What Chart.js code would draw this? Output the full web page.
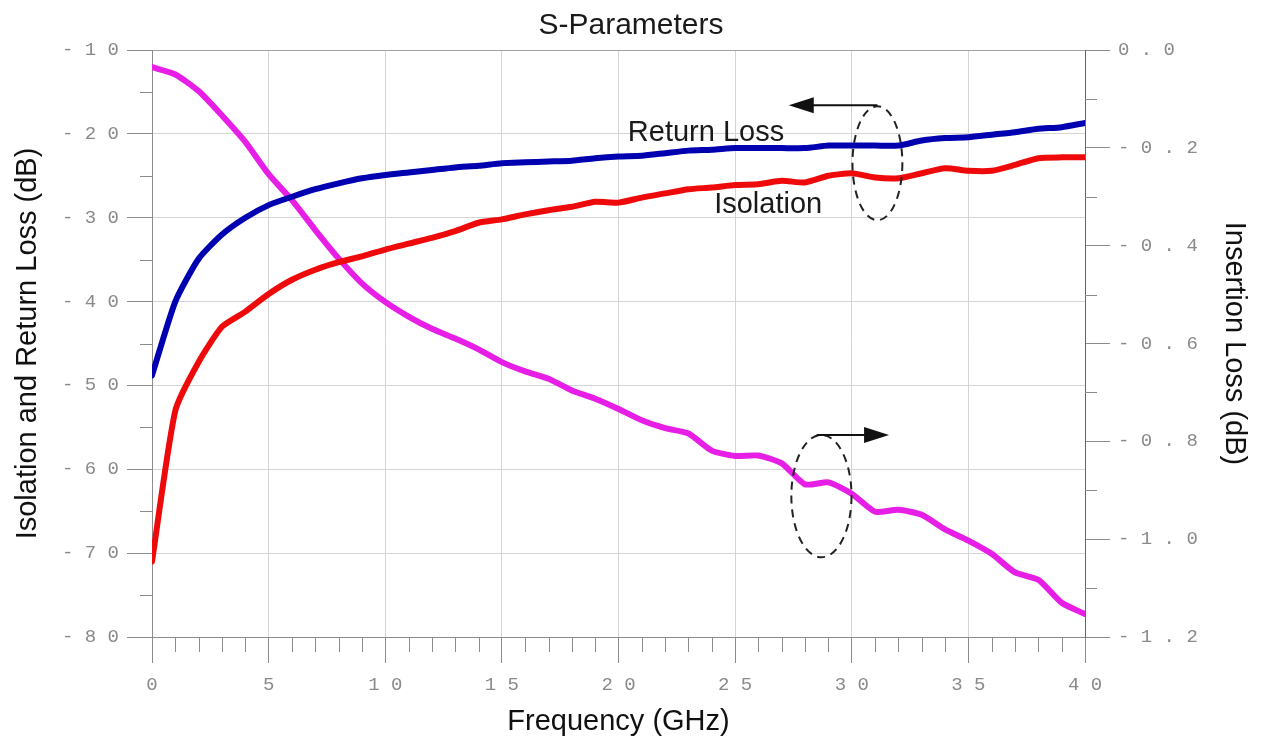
<!DOCTYPE html>
<html lang="en">
<head>
<meta charset="UTF-8">
<title>S-Parameters</title>
<script src="https://cdn.jsdelivr.net/npm/chart.js"></script>
<style>
html, body { margin: 0; padding: 0; background: #fff; }
#wrap { width: 1262px; height: 750px; }
</style>
</head>
<body>
<div id="wrap"><canvas id="sChart"></canvas></div>
<script>
// frequency points in GHz
var freq = [0,1,2,3,4,5,6,7,8,9,10,11,12,13,14,15,16,17,18,19,20,
            21,22,23,24,25,26,27,28,29,30,31,32,33,34,35,36,37,38,39,40];

// left axis (dB)
var returnLoss = [-48.8,-40.0,-34.9,-32.0,-30.0,-28.5,-27.5,-26.6,-25.9,-25.3,-24.9,
                  -24.6,-24.3,-24.0,-23.8,-23.5,-23.4,-23.3,-23.2,-22.9,-22.7,
                  -22.6,-22.3,-22.0,-21.9,-21.7,-21.7,-21.7,-21.7,-21.4,-21.4,
                  -21.4,-21.4,-20.8,-20.5,-20.4,-20.1,-19.8,-19.4,-19.2,-18.7];
var isolation = [-71.0,-53.0,-47.2,-43.0,-41.2,-39.1,-37.4,-36.2,-35.3,-34.6,-33.8,
                 -33.1,-32.4,-31.6,-30.6,-30.2,-29.6,-29.1,-28.7,-28.1,-28.2,
                 -27.6,-27.1,-26.6,-26.4,-26.1,-26.0,-25.6,-25.8,-25.0,-24.7,
                 -25.2,-25.3,-24.7,-24.1,-24.4,-24.4,-23.7,-22.9,-22.8,-22.8];
// right axis (dB)
var insertionLoss = [-0.035,-0.050,-0.084,-0.134,-0.188,-0.254,-0.307,-0.368,-0.426,-0.477,-0.515,
                     -0.545,-0.570,-0.590,-0.612,-0.638,-0.657,-0.672,-0.696,-0.713,-0.734,
                     -0.757,-0.773,-0.784,-0.819,-0.830,-0.829,-0.845,-0.888,-0.884,-0.907,
                     -0.944,-0.940,-0.950,-0.980,-1.003,-1.030,-1.068,-1.083,-1.130,-1.153];

var freqTicks = [0,5,10,15,20,25,30,35,40];
var leftTicks = [-80,-70,-60,-50,-40,-30,-20,-10];
var rightTicks = [-1.2,-1.0,-0.8,-0.6,-0.4,-0.2,0.0];

function pts(ys) {
  return freq.map(function (f, i) { return { x: f, y: ys[i] }; });
}
function spaced(s) { return s.split('').join(' '); }

var tickFont = { family: 'Liberation Mono', size: 19 };
var titleFont = { family: 'Liberation Sans', size: 29, weight: 'normal' };
var gridGray = '#d4d4d4';
var axisGray = '#8c8c8c';

// minor ticks, arrows, ellipses and curve labels
var notesPlugin = {
  id: 'notes',
  afterDraw: function (chart) {
    var ctx = chart.ctx;
    var xs = chart.scales.x, ys = chart.scales.y, ys2 = chart.scales.y2;
    ctx.save();
    ctx.strokeStyle = axisGray;
    ctx.lineWidth = 1;
    ctx.beginPath();
    for (var f = 1; f < 40; f++) {
      if (f % 5 === 0) continue;
      var px = Math.round(xs.getPixelForValue(f)) + 0.5;
      ctx.moveTo(px, xs.top); ctx.lineTo(px, xs.top + 15);
    }
    for (var v = -75; v < -10; v += 10) {
      var py = Math.round(ys.getPixelForValue(v)) + 0.5;
      ctx.moveTo(ys.right - 12, py); ctx.lineTo(ys.right, py);
    }
    for (var k = -11; k < 0; k += 2) {
      var py2 = Math.round(ys2.getPixelForValue(k / 10)) + 0.5;
      ctx.moveTo(ys2.left, py2); ctx.lineTo(ys2.left + 12, py2);
    }
    ctx.stroke();

    // dashed ellipses
    ctx.strokeStyle = '#222';
    ctx.lineWidth = 2;
    ctx.setLineDash([8, 6]);
    [[31.1, -23.5, 1.07, 6.8], [28.7, -63.2, 1.29, 7.3]].forEach(function (e) {
      var cx = xs.getPixelForValue(e[0]), cy = ys.getPixelForValue(e[1]);
      var rx = xs.getPixelForValue(e[0] + e[2]) - cx;
      var ry = ys.getPixelForValue(e[1] - e[3]) - cy;
      ctx.beginPath();
      ctx.ellipse(cx, cy, rx, ry, 0, 0, Math.PI * 2);
      ctx.stroke();
    });
    ctx.setLineDash([]);

    // arrows: [from f, to f, level dB]
    ctx.fillStyle = '#111';
    ctx.strokeStyle = '#111';
    ctx.lineWidth = 2;
    [[31.1, 27.3, -16.6], [28.5, 31.6, -55.9]].forEach(function (a) {
      var x0 = xs.getPixelForValue(a[0]), x1 = xs.getPixelForValue(a[1]);
      var y = ys.getPixelForValue(a[2]);
      var dir = x1 > x0 ? 1 : -1;
      ctx.beginPath();
      ctx.moveTo(x0, y); ctx.lineTo(x1 - dir * 20, y);
      ctx.stroke();
      ctx.beginPath();
      ctx.moveTo(x1, y);
      ctx.lineTo(x1 - dir * 25, y - 8);
      ctx.lineTo(x1 - dir * 25, y + 8);
      ctx.closePath();
      ctx.fill();
    });

    // curve labels
    ctx.fillStyle = '#1a1a1a';
    ctx.font = '29px "Liberation Sans"';
    ctx.textBaseline = 'middle';
    ctx.textAlign = 'left';
    ctx.fillText('Return Loss', xs.getPixelForValue(20.4), ys.getPixelForValue(-19.9));
    ctx.fillText('Isolation', xs.getPixelForValue(24.1), ys.getPixelForValue(-28.5));
    ctx.restore();
  }
};

var ctx = document.getElementById('sChart');
new Chart(ctx, {
  type: 'line',
  data: {
    datasets: [{
      label: 'Return Loss',
      data: pts(returnLoss),
      borderColor: '#0000b0',
      yAxisID: 'y'
    }, {
      label: 'Isolation',
      data: pts(isolation),
      borderColor: '#ee0a0a',
      yAxisID: 'y'
    }, {
      label: 'Insertion Loss',
      data: pts(insertionLoss),
      borderColor: '#e61ee6',
      yAxisID: 'y2'
    }]
  },
  options: {
    responsive: true,
    maintainAspectRatio: false,
    animation: false,
    layout: { padding: 0 },
    elements: {
      point: { radius: 0 },
      line: { borderWidth: 6, tension: 0.2, borderCapStyle: 'round', borderJoinStyle: 'round', fill: false }
    },
    plugins: {
      legend: { display: false },
      tooltip: { enabled: false },
      title: {
        display: true,
        text: 'S-Parameters',
        color: '#1a1a1a',
        font: { family: 'Liberation Sans', size: 30, weight: 'normal' },
        padding: { top: 8, bottom: 6 }
      }
    },
    scales: {
      x: {
        type: 'linear',
        min: 0, max: 40,
        afterFit: function (s) { s.height = 113; },
        afterBuildTicks: function (s) { s.ticks = freqTicks.map(function (v) { return { value: v }; }); },
        ticks: {
          color: '#8a8a8a', font: tickFont, padding: 11, maxRotation: 0,
          callback: function (v) { return spaced(String(v)); }
        },
        grid: {
          color: function (c) { return c.tick && c.tick.value > 0 && c.tick.value < 40 ? gridGray : 'rgba(0,0,0,0)'; },
          tickColor: axisGray, tickLength: 26
        },
        border: { display: true, color: axisGray },
        title: { display: true, text: 'Frequency (GHz)', color: '#111', font: titleFont, padding: { top: 0, bottom: 11 } }
      },
      y: {
        type: 'linear', position: 'left',
        min: -80, max: -10,
        afterFit: function (s) { s.width = 152; },
        afterBuildTicks: function (s) { s.ticks = leftTicks.map(function (v) { return { value: v }; }); },
        ticks: {
          color: '#8a8a8a', font: tickFont, padding: 8,
          callback: function (v) { return spaced(String(v)); }
        },
        grid: {
          color: function (c) {
            if (!c.tick) return gridGray;
            if (c.tick.value === -10) return '#a0a0a0';
            return c.tick.value > -80 ? gridGray : 'rgba(0,0,0,0)';
          },
          tickColor: axisGray, tickLength: 25
        },
        border: { display: true, color: axisGray },
        title: { display: true, text: 'Isolation and Return Loss (dB)', color: '#111', font: titleFont, padding: { top: 11, bottom: 0 } }
      },
      y2: {
        type: 'linear', position: 'right',
        min: -1.2, max: 0,
        afterFit: function (s) { s.width = 177; },
        afterBuildTicks: function (s) { s.ticks = rightTicks.map(function (v) { return { value: v }; }); },
        ticks: {
          color: '#8a8a8a', font: tickFont, padding: 8,
          callback: function (v) { return spaced(v.toFixed(1)); }
        },
        grid: { drawOnChartArea: false, tickColor: axisGray, tickLength: 25 },
        border: { display: true, color: '#666' },
        title: { display: true, text: 'Insertion Loss (dB)', color: '#111', font: titleFont, padding: { top: 11, bottom: 0 } }
      }
    }
  },
  plugins: [notesPlugin]
});
</script>
</body>
</html>
